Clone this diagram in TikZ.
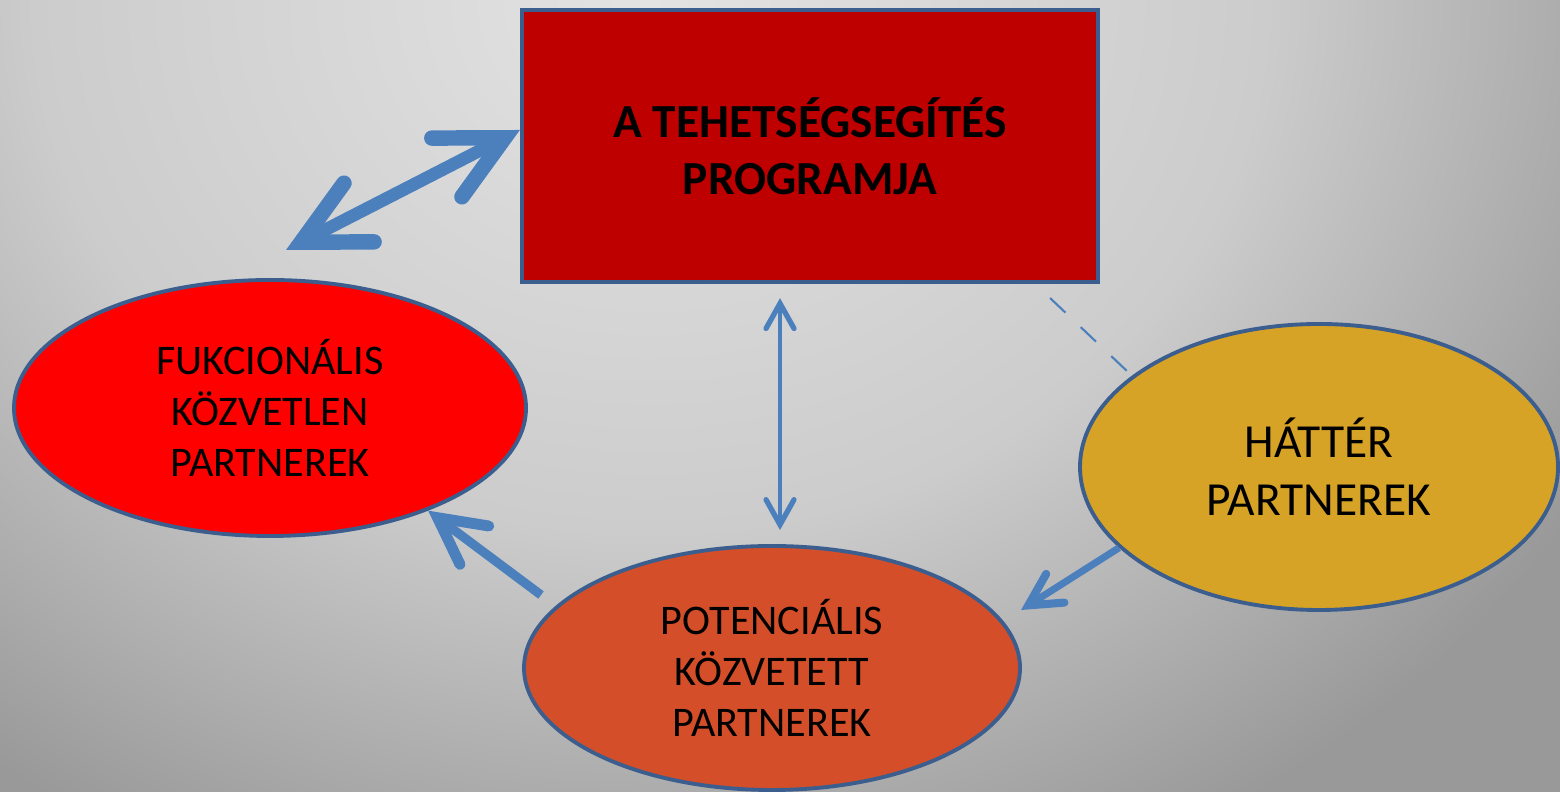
\documentclass[tikz,border=0pt]{standalone}
\usepackage{fontspec}
\setmainfont{Carlito}
\usetikzlibrary{arrows.meta}
\usetikzlibrary{shapes.geometric}
\definecolor{mblue}{rgb}{0.30, 0.50, 0.74}
\definecolor{mframe}{rgb}{0.23, 0.37, 0.56}
\definecolor{mdarkred}{rgb}{0.75, 0, 0}
\definecolor{mred}{rgb}{1, 0, 0}
\definecolor{morange}{rgb}{0.83, 0.31, 0.16}
\definecolor{mgold}{rgb}{0.84, 0.64, 0.15}
\definecolor{mlight}{rgb}{0.89, 0.89, 0.89}
\definecolor{mmid}{rgb}{0.80, 0.80, 0.80}
\definecolor{mdark}{rgb}{0.60, 0.60, 0.60}
\pgfdeclareradialshading{bgglow}{\pgfpoint{0bp}{0bp}}{color(0bp)=(mlight); color(14bp)=(mmid); color(25bp)=(mdark); color(50bp)=(mdark)}
\tikzset{progbox/.style = {draw = mframe, line width = 1.2pt, fill = mdarkred, minimum width = 5.76cm, minimum height = 2.72cm, inner sep = 0, align = center, font = \fontsize{13.5}{16.2}\selectfont\bfseries}}
\tikzset{partner/.style = {ellipse, draw = mframe, line width = 1.1pt, inner sep = 0, align = center, font = \fontsize{12}{14.6}\selectfont}}
\tikzset{bigarrow/.style = {mblue, line width = 3.6pt, {Straight Barb[length = 6.5mm, width = 6.6mm, line width = 4.4pt, line cap = round, line join = miter]}-{Straight Barb[length = 6.5mm, width = 6.6mm, line width = 4.4pt, line cap = round, line join = miter]}}}
\tikzset{midarrow/.style = {mblue, line width = 2.6pt, -{Straight Barb[length = 4.6mm, width = 4.8mm, line width = 3.1pt, line cap = round, line join = miter]}}}
\tikzset{smallarrow/.style = {mblue, line width = 2pt, -{Straight Barb[length = 3.2mm, width = 3.4mm, line width = 2.3pt, line cap = round, line join = miter]}}}
\tikzset{thinarrow/.style = {mblue, line width = 1.3pt, {Straight Barb[length = 2.5mm, width = 2.8mm, line width = 1.5pt, line cap = round, line join = miter]}-{Straight Barb[length = 2.5mm, width = 2.8mm, line width = 1.5pt, line cap = round, line join = miter]}}}
\tikzset{dashline/.style = {mblue, line width = 0.6pt, dash pattern = on 6pt off 6pt}}

\begin{document}
\begin{tikzpicture}
    \useasboundingbox (0, 0) rectangle (15.6, 7.92);
    \begin{scope}
      \clip (0, 0) rectangle (15.6, 7.92);
      \fill [mdark] (0, 0) rectangle (15.6, 7.92);
      \shade [shading = bgglow] (6.5, 7.92) ellipse (11 and 9.5);
    \end{scope}

    \node [progbox] (prog) at (8.10, 6.46) {A TEHETSÉGSEGÍTÉS\\PROGRAMJA};
    \node [partner, fill = mred, minimum width = 5.12cm, minimum height = 2.56cm] (func) at (2.70, 3.84) {FUKCIONÁLIS\\KÖZVETLEN\\PARTNEREK};
    \node [partner, fill = morange, minimum width = 4.96cm, minimum height = 2.44cm] (pot) at (7.72, 1.24) {POTENCIÁLIS\\KÖZVETETT\\PARTNEREK};
    \node [partner, fill = mgold, minimum width = 4.78cm, minimum height = 2.86cm, font = \fontsize{13.5}{16.5}\selectfont] (hat) at (13.19, 3.25) {HÁTTÉR\\PARTNEREK};

    \coordinate (funcend) at (2.86, 5.42);
    \coordinate (pottail) at (5.41, 1.97);
    \coordinate (hattip) at (10.21, 1.82);

    \draw [bigarrow] (funcend) -- ([yshift = 1.6mm]prog.west);
    \draw [thinarrow, shorten <= 1.4mm, shorten >= 1.4mm] ([xshift = -3mm]prog.south) -- ([xshift = -3mm]prog.south |- pot.north);
    \draw [midarrow] (pottail) -- (func.-33);
    \draw [smallarrow] (hat.202) -- (hattip);
    \draw [dashline] ([shift = {(-0.5, -0.14)}]prog.south east) -- (hat.154);
  \end{tikzpicture}
\end{document}
